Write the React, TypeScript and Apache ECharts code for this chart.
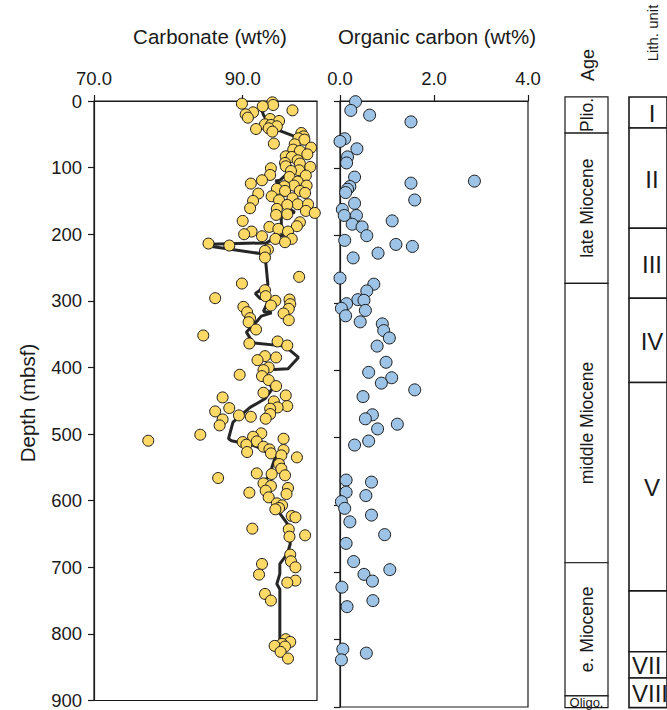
import React, { useEffect, useRef } from "react";
import * as echarts from "echarts";

// [depth (mbsf), carbonate (wt%)]
const carbonateSamples: [number, number][] = [
  [2, 94.0], [4, 89.9], [6, 94.1], [8, 92.7], [14, 96.7], [17, 91.4], [20, 90.4], [25, 90.7], [27, 93.7], [30, 94.9],
  [35, 93.0], [36, 93.8], [38, 94.6], [41, 93.5], [42, 91.8], [46, 94.0], [48, 97.9], [53, 98.2], [56, 97.5], [58, 98.3],
  [64, 94.2], [65, 97.0], [70, 99.2], [73, 96.8], [75, 97.7], [80, 98.7], [83, 95.8], [84, 96.6], [89, 97.4], [93, 95.7],
  [94, 97.7], [98, 95.8], [99, 99.1], [101, 93.8], [104, 97.6], [105, 96.5], [111, 93.7], [112, 98.5], [114, 96.3], [119, 92.6],
  [121, 97.4], [124, 91.1], [127, 96.9], [127, 98.6], [128, 95.6], [132, 94.6], [135, 95.7], [135, 97.7], [138, 98.4], [139, 92.1],
  [143, 93.9], [146, 96.7], [149, 94.9], [150, 91.4], [155, 97.4], [155, 98.8], [156, 96.0], [161, 91.0], [162, 94.6], [165, 98.5],
  [168, 99.7], [170, 96.0], [171, 94.5], [180, 90.0], [182, 97.7], [188, 97.3], [189, 93.6], [192, 94.8], [196, 91.2], [196, 96.1],
  [200, 90.2], [203, 92.6], [207, 94.4], [207, 96.6], [212, 95.7], [214, 85.4], [217, 88.2],
  [223, 93.4], [225, 93.0], [235, 93.0], [264, 97.6], [274, 89.9], [284, 93.0], [293, 93.1], [296, 86.3], [298, 96.3], [300, 94.4],
  [305, 96.4], [307, 93.8], [309, 90.1], [312, 96.2], [317, 90.6], [319, 95.5], [326, 91.0], [329, 96.2], [332, 90.8], [343, 91.8],
  [352, 84.7], [361, 94.7], [364, 90.9], [367, 96.0], [383, 93.0], [385, 94.5], [389, 92.0], [400, 93.5], [404, 92.8], [411, 89.6],
  [413, 92.6], [419, 93.5], [428, 94.5], [438, 92.8], [442, 95.8], [445, 87.3],
  [451, 94.2], [458, 96.0], [460, 94.7], [461, 88.2], [462, 93.7], [466, 86.3], [470, 93.7], [472, 89.5], [474, 91.1], [477, 93.1],
  [478, 87.3], [487, 86.9], [499, 92.5], [501, 84.3], [504, 91.4], [507, 95.5], [510, 77.3], [511, 91.9], [512, 90.0], [516, 90.5],
  [519, 92.8], [523, 93.6], [524, 95.5], [527, 90.6], [529, 93.8], [532, 95.2], [535, 97.3], [545, 94.9], [552, 95.2], [559, 91.9],
  [560, 93.9], [562, 95.7], [566, 86.7], [574, 92.8], [578, 93.8], [581, 96.1], [585, 93.1], [588, 90.9], [590, 95.9], [595, 93.5],
  [604, 94.6], [607, 95.3], [611, 94.9], [613, 94.4], [623, 96.6], [625, 97.1], [642, 91.3], [643, 96.2], [652, 98.4], [654, 96.3],
  [681, 96.4], [691, 96.5], [695, 92.6], [700, 97.1], [711, 92.2], [720, 97.1], [723, 96.0], [740, 93.0], [750, 93.8],
  [808, 95.8], [812, 96.4], [815, 95.3], [818, 94.3], [819, 95.7], [827, 95.1], [837, 96.1],
];

// smoothed carbonate curve: [depth, carbonate]
const carbonateTrend: [number, number][] = [
  [11, 92.5], [21, 92.8], [30, 93.3], [43, 94.6], [53, 97.0], [65, 97.3], [78, 96.8], [93, 96.2], [103, 96.6], [119, 95.0],
  [120, 94.4], [127, 95.5], [135, 96.1], [150, 94.8], [167, 97.0], [172, 95.2], [189, 95.2], [199, 96.1], [205, 94.4], [213, 93.2],
  [215, 85.4], [218, 85.6], [230, 93.0], [276, 93.4], [289, 91.7], [296, 92.3], [299, 93.5], [316, 92.8], [318, 93.9], [323, 92.5],
  [331, 91.9], [336, 91.4], [347, 90.5], [356, 91.0], [363, 91.4], [368, 95.7], [385, 97.5], [402, 96.1], [404, 93.0], [422, 93.5],
  [432, 94.0], [447, 93.0], [460, 91.0], [482, 88.7], [507, 88.1], [510, 88.5], [517, 91.4], [524, 93.0], [534, 94.4], [551, 93.9],
  [574, 93.0], [596, 93.9], [616, 94.8], [636, 96.1], [665, 96.4], [680, 96.0], [695, 95.0], [710, 95.0], [725, 94.6], [733, 95.0],
  [814, 95.0],
];

// [depth (mbsf), organic carbon (wt%)]
const organicSamples: [number, number][] = [
  [1, 0.33], [14, 0.23], [21, 0.63], [31, 1.51], [56, 0.10], [60, 0.0], [71, 0.36], [83, 0.16], [92, 0.14], [113, 0.31],
  [119, 2.86], [122, 1.51], [127, 0.21], [131, 0.16], [136, 0.12], [147, 1.59], [152, 0.31], [161, 0.05], [170, 0.09], [170, 0.35],
  [178, 1.11], [183, 0.26], [187, 0.47], [200, 0.57], [207, 0.10], [213, 1.19], [216, 1.54], [226, 0.81], [233, 0.28], [263, 0.0],
  [272, 0.72], [282, 0.57], [295, 0.38], [296, 0.51], [301, 0.14], [308, 0.03], [311, 0.54], [319, 0.12], [328, 0.43], [331, 0.90],
  [341, 0.93], [352, 1.05], [364, 0.79], [388, 0.98], [403, 0.61], [411, 1.10], [419, 0.88], [429, 1.59], [439, 0.49], [466, 0.69],
  [472, 0.54], [480, 1.22], [487, 0.80], [505, 0.61], [511, 0.31], [563, 0.13], [566, 0.67], [581, 0.13], [586, 0.55], [595, 0.03],
  [605, 0.10], [615, 0.67], [625, 0.21], [644, 0.95], [657, 0.13], [684, 0.29], [696, 1.06], [703, 0.51], [713, 0.69], [722, 0.04],
  [742, 0.70], [751, 0.15], [814, 0.06], [820, 0.56], [830, 0.03],
];

// age intervals: top depth, bottom depth
const ageNames = ["Plio.", "late Miocene", "middle Miocene", "e. Miocene", "Oligo."];
const ageTops = [-6, 47.6, 270.8, 685.8, 883.5];
const ageBottoms = [47.6, 270.8, 685.8, 883.5, 901];

// lithologic units
const lithNames = ["I", "II", "III", "IV", "V", "", "VII", "VIII"];
const lithTops = [-6, 40.2, 189, 293, 418, 727.5, 818, 857];
const lithBottoms = [40.2, 189, 293, 418, 727.5, 818, 857, 901];

const carbonateTicks = [70, 90];
const organicTicks = [0, 2, 4];

const FONT = "'Liberation Sans', Arial, Helvetica, sans-serif";
const INK = "#1a1a1a";

export default function App() {
  const ref = useRef<HTMLDivElement>(null);

  useEffect(() => {
    const chart = echarts.init(ref.current as HTMLDivElement, null, { renderer: "svg" });

    const depthAxis = (gridIndex: number, showLabels: boolean, show = true) => ({
      type: "value",
      gridIndex,
      show,
      min: 0,
      max: 900,
      interval: 100,
      inverse: true,
      splitLine: { show: false },
      axisLine: { show: true, lineStyle: { color: INK, width: 1.2 } },
      axisTick: { show: true, inside: false, length: 6, lineStyle: { color: INK, width: 1.2 } },
      axisLabel: { show: showLabels, fontSize: 18.5, color: INK, margin: 12, fontFamily: FONT },
    });

    const hiddenX = (gridIndex: number) => ({ type: "value", gridIndex, show: false, min: 0, max: 1 });

    const columnRender = (names: string[], tops: number[], bottoms: number[], kind: "age" | "lith") =>
      (params: any, api: any) => {
        const i = params.dataIndex;
        const t = api.coord([0, tops[i]]);
        const b = api.coord([0, bottoms[i]]);
        const cs = params.coordSys;
        const name = names[i];
        const cy = (t[1] + b[1]) / 2;
        const children: any[] = [
          {
            type: "rect",
            shape: { x: cs.x, y: t[1], width: cs.width, height: b[1] - t[1] },
            style: { fill: "#fff", stroke: INK, lineWidth: kind === "age" ? 1.2 : 1.6 },
          },
        ];
        if (name) {
          if (kind === "age") {
            const horizontal = name === "Oligo.";
            children.push({
              type: "text",
              x: cs.x + cs.width / 2,
              y: cy + (horizontal ? 0.5 : 0),
              rotation: horizontal ? 0 : Math.PI / 2,
              style: {
                text: name,
                fontSize: horizontal ? 13 : 17.5,
                fontFamily: FONT,
                fill: INK,
                textAlign: "center",
                textVerticalAlign: "middle",
                align: "center",
                verticalAlign: "middle",
              },
            });
          } else {
            const left = name.startsWith("VII");
            children.push({
              type: "text",
              x: left ? cs.x + 3 : 652,
              y: cy + 1,
              style: {
                text: name,
                fontSize: 24,
                fontFamily: FONT,
                fill: INK,
                textAlign: left ? "left" : "center",
                textVerticalAlign: "middle",
                align: left ? "left" : "center",
                verticalAlign: "middle",
              },
            });
          }
        }
        return { type: "group", children };
      };

    const topAxis = (gridIndex: number, min: number, max: number, ticks: number[]) => ({
      type: "value",
      gridIndex,
      position: "top",
      min,
      max,
      splitLine: { show: false },
      axisLine: { lineStyle: { color: INK, width: 1.2 } },
      axisTick: { show: true, inside: false, length: 6, customValues: ticks, lineStyle: { color: INK, width: 1.2 } },
      axisLabel: {
        customValues: ticks,
        formatter: (v: number) => v.toFixed(1),
        fontSize: 18.5,
        color: INK,
        margin: 13,
        fontFamily: FONT,
      },
    });

    const titleStyle = (text: string, size: number) => ({
      text,
      fontSize: size,
      fontFamily: FONT,
      fill: INK,
      textAlign: "center",
      textVerticalAlign: "middle",
    });

    const option: any = {
      animation: false,
      textStyle: { fontFamily: FONT },
      grid: [
        { left: 94, top: 101, width: 223, height: 606, show: true, borderColor: INK, borderWidth: 1.2 },
        { left: 340, top: 101, width: 188, height: 606, show: true, borderColor: INK, borderWidth: 1.2 },
        { left: 565, top: 101, width: 43, height: 606 },
        { left: 629, top: 101, width: 50, height: 606 },
      ],
      xAxis: [topAxis(0, 70, 100, carbonateTicks), topAxis(1, 0, 4, organicTicks), hiddenX(2), hiddenX(3)],
      yAxis: [depthAxis(0, true), depthAxis(1, false), depthAxis(2, false, false), depthAxis(3, false, false)],
      graphic: [
        { type: "text", x: 210, y: 36, style: titleStyle("Carbonate (wt%)", 20.5) },
        { type: "text", x: 437, y: 36, style: titleStyle("Organic carbon (wt%)", 20.5) },
        { type: "text", x: 27, y: 403, rotation: Math.PI / 2, style: titleStyle("Depth (mbsf)", 20.5) },
        { type: "text", x: 588, y: 65, rotation: Math.PI / 2, style: titleStyle("Age", 18) },
        { type: "text", x: 652, y: 33, rotation: Math.PI / 2, style: titleStyle("Lith. unit", 15) },
      ],
      series: [
        {
          type: "line",
          xAxisIndex: 0,
          yAxisIndex: 0,
          data: carbonateTrend.map(([d, c]) => [c, d]),
          showSymbol: false,
          symbol: "none",
          lineStyle: { color: "#262626", width: 3 },
          z: 2,
          clip: false,
        },
        {
          type: "scatter",
          xAxisIndex: 0,
          yAxisIndex: 0,
          data: carbonateSamples.map(([d, c]) => [c, d]),
          symbolSize: 11,
          itemStyle: { color: "#FFD966", borderColor: INK, borderWidth: 1, opacity: 1 },
          z: 3,
          clip: false,
        },
        {
          type: "scatter",
          xAxisIndex: 1,
          yAxisIndex: 1,
          data: organicSamples.map(([d, o]) => [o, d]),
          symbolSize: 12,
          itemStyle: { color: "#9DC3E6", borderColor: INK, borderWidth: 1, opacity: 1 },
          z: 3,
          clip: false,
        },
        {
          type: "custom",
          xAxisIndex: 2,
          yAxisIndex: 2,
          clip: false,
          data: ageNames.map((_, i) => [0.5, ageTops[i], ageBottoms[i]]),
          encode: { x: 0, y: 1 },
          renderItem: columnRender(ageNames, ageTops, ageBottoms, "age"),
        },
        {
          type: "custom",
          xAxisIndex: 3,
          yAxisIndex: 3,
          clip: false,
          data: lithNames.map((_, i) => [0.5, lithTops[i], lithBottoms[i]]),
          encode: { x: 0, y: 1 },
          renderItem: columnRender(lithNames, lithTops, lithBottoms, "lith"),
        },
      ],
    };

    chart.setOption(option);
    return () => chart.dispose();
  }, []);

  return (
    <div
      ref={ref}
      style={{ position: "absolute", left: 0, top: 0, width: 667, height: 710, background: "#fff" }}
    />
  );
}
